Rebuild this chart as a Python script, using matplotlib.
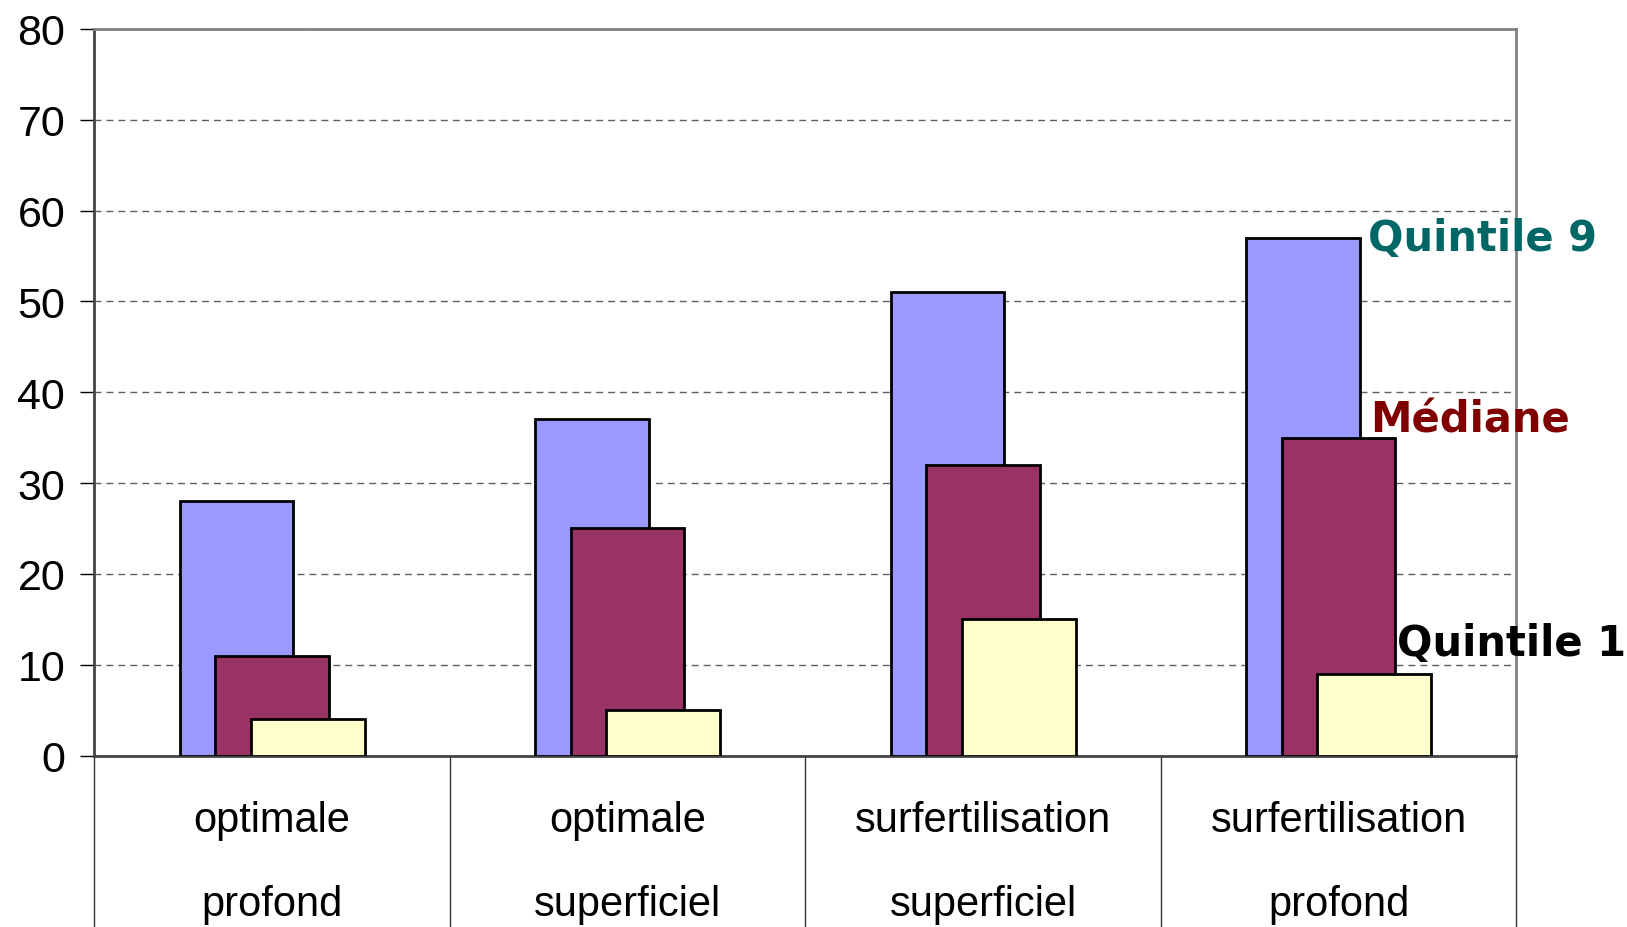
import numpy as np
import matplotlib
matplotlib.use("Agg")
from matplotlib import pyplot as plt

cat_line1 = ["optimale", "optimale", "surfertilisation", "surfertilisation"]
cat_line2 = ["profond", "superficiel", "superficiel", "profond"]
quintile9 = [28, 37, 51, 57]
mediane = [11, 25, 32, 35]
quintile1 = [4, 5, 15, 9]

c_q9 = "#9999FF"
c_med = "#993366"
c_q1 = "#FFFFCC"
fam = ["Liberation Sans", "DejaVu Sans"]

fig = plt.figure(figsize=(16.27, 9.28), dpi=100)
ax = fig.add_axes([0.058, 0.1848, 0.874, 0.783])

x = np.arange(len(cat_line1))
w = 0.32
off = 0.1
ax.bar(x - off, quintile9, w, color=c_q9, edgecolor="black", linewidth=2, zorder=3)
ax.bar(x, mediane, w, color=c_med, edgecolor="black", linewidth=2, zorder=4)
ax.bar(x + off, quintile1, w, color=c_q1, edgecolor="black", linewidth=2, zorder=5)

ax.set_xlim(-0.5, len(cat_line1) - 0.5)
ax.set_ylim(0, 80)
ax.set_yticks(np.arange(0, 81, 10))
ax.tick_params(axis="y", labelsize=31, length=10, width=1, pad=11, direction="out")
for t in ax.get_yticklabels():
    t.set_fontfamily(fam)
ax.set_xticks([])

ax.yaxis.grid(True, linestyle=(0, (5, 3.6)), color="#606060", linewidth=1)
ax.set_axisbelow(True)

for s in ["top", "right"]:
    ax.spines[s].set_color("#808080")
    ax.spines[s].set_linewidth(2)
for s in ["left", "bottom"]:
    ax.spines[s].set_color("#444444")
    ax.spines[s].set_linewidth(2)

# category table below the axis
for b in np.arange(-0.5, len(cat_line1), 1.0):
    ax.axvline(b, ymin=-0.3, ymax=0, color="#333333", linewidth=1, clip_on=False)
for i in range(len(cat_line1)):
    ax.text(i, -7.1, cat_line1[i], ha="center", va="center", fontsize=30,
            family=fam, clip_on=False)
    ax.text(i, -16.4, cat_line2[i], ha="center", va="center", fontsize=30,
            family=fam, clip_on=False)

# series labels next to the last group
last = len(cat_line1) - 1
ax.annotate("Quintile 9", xy=(last - off + w / 2, quintile9[last]), xytext=(6, 0),
            textcoords="offset points", ha="left", va="center", fontsize=30,
            fontweight="bold", color="#006666", annotation_clip=False)
ax.annotate("Médiane", xy=(last - off + w / 2, mediane[last]), xytext=(7, 13),
            textcoords="offset points", ha="left", va="center", fontsize=30,
            fontweight="bold", color="#800000", annotation_clip=False)
ax.annotate("Quintile 1", xy=(last + w / 2, quintile1[last]), xytext=(1, 22),
            textcoords="offset points", ha="left", va="center", fontsize=30,
            fontweight="bold", color="black", annotation_clip=False)

fig.savefig("out.png", dpi=100)
